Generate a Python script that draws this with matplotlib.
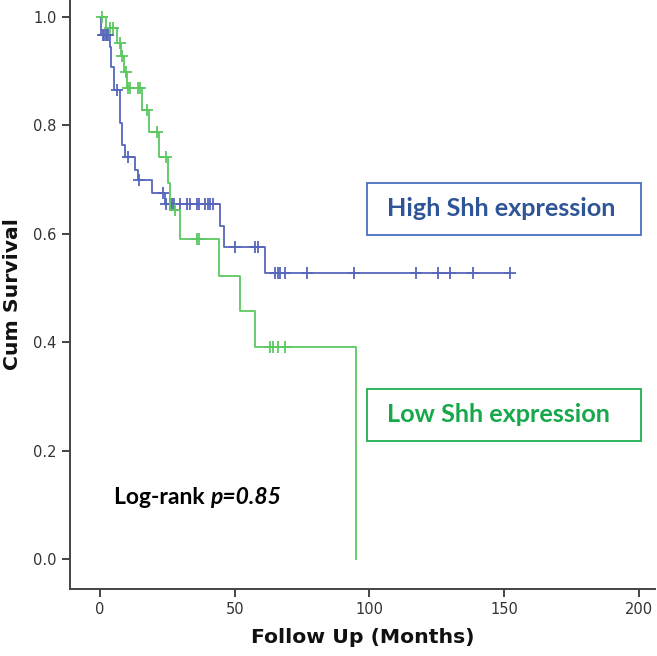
import numpy as np
import matplotlib
matplotlib.use("Agg")
import matplotlib.pyplot as plt

# Kaplan-Meier curves (months, cumulative survival)
high_times = [0, 0.3, 3.7, 4.2, 5.0, 7.2, 7.5, 8.0, 9.3, 13.0, 14.2, 19.2,
              24.2, 44.5, 46.0, 61.3, 152.4]
high_surv = [1.0, 0.967, 0.945, 0.908, 0.865, 0.845, 0.804, 0.763, 0.742,
             0.718, 0.699, 0.676, 0.655, 0.614, 0.576, 0.528, 0.528]
high_cens = [1.0, 1.5, 2.0, 2.5, 3.0, 6.2, 10.5, 14.6, 23.5, 24.5, 25.8,
             26.6, 27.5, 29.5, 32.2, 33.5, 35.9, 36.9, 39.0, 39.9, 40.9, 42.1,
             50.2, 57.6, 58.7, 65.0, 65.9, 66.9, 68.8, 76.8, 94.4, 117.3,
             125.5, 130.1, 138.5, 152.4]

low_times = [0, 2.2, 6.2, 7.7, 8.7, 9.9, 15.5, 18.0, 21.7, 25.2, 25.8,
             29.5, 44.0, 51.8, 57.6, 95.2]
low_surv = [1.0, 0.979, 0.951, 0.927, 0.899, 0.868, 0.828, 0.787, 0.742,
            0.694, 0.644, 0.590, 0.523, 0.458, 0.392, 0.0]
low_cens = [0.6, 3.7, 4.6, 7.2, 8.2, 9.7, 10.5, 11.2, 13.9, 14.9, 17.3,
            21.0, 24.5, 27.9, 36.0, 36.6, 63.2, 64.2, 65.9, 68.8]

x_ticks = [0, 50, 100, 150, 200]
y_ticks = [0.0, 0.2, 0.4, 0.6, 0.8, 1.0]

C_HIGH = "#5666bc"
C_LOW = "#5cc860"
AXIS = "#444444"


def level_at(times, surv, t):
    i = np.searchsorted(times, t, side="right") - 1
    return np.asarray(surv)[i]


fig = plt.figure(figsize=(6.57, 6.56), dpi=100)
ax = fig.add_axes([0.1065, 0.102, 0.89, 0.898])

for times, surv, cens, col in ((high_times, high_surv, high_cens, C_HIGH),
                               (low_times, low_surv, low_cens, C_LOW)):
    ax.step(times, surv, where="post", color=col, lw=1.3)
    ax.plot(cens, level_at(times, surv, cens), ls="none", marker="+",
            ms=8, mew=1.3, color=col)

ax.set_xlim(-11.2, 206)
ax.set_ylim(-0.055, 1.031)
ax.set_xticks(x_ticks)
ax.set_yticks(y_ticks)
ax.set_xticklabels([str(v) for v in x_ticks])
ax.set_yticklabels([f"{v:.1f}" for v in y_ticks])
for s in ("top", "right"):
    ax.spines[s].set_visible(False)
for s in ("left", "bottom"):
    ax.spines[s].set_color(AXIS)
    ax.spines[s].set_linewidth(1.4)
ax.tick_params(colors=AXIS, labelcolor="#333333", labelsize=10.5,
               length=6, width=1.4)

ax.set_xlabel("Follow Up (Months)", fontsize=14.7, fontweight="bold",
              color="#111111", labelpad=8)
ax.set_ylabel("Cum Survival", fontsize=14.7, fontweight="bold",
              color="#111111", labelpad=8)

# annotation boxes
for text, y0, y1, edge, tc in (("High Shh expression", 183, 235, "#4a6fc0", "#2f5597"),
                                ("Low Shh expression", 389, 441, "#20b050", "#16a84a")):
    x0, x1 = 367, 641
    fig.patches.append(matplotlib.patches.Rectangle(
        (x0 / 657, 1 - y1 / 656), (x1 - x0) / 657, (y1 - y0) / 656,
        transform=fig.transFigure, fill=False, edgecolor=edge, lw=1.3))
    fig.text(387 / 657, 1 - (y0 + y1) / 2 / 656, text, family="Lato",
             fontsize=18.2, fontweight="bold", color=tc, ha="left", va="center")

lr = fig.text(114 / 657, 1 - 497 / 656, "Log-rank ", family="Lato", fontsize=16.5,
              fontweight="bold", color="black", ha="left", va="center")
ax.annotate("p=0.85", xy=(1, 0.5), xycoords=lr, family="Lato", fontsize=16.5,
            fontweight="bold", style="italic", color="black", ha="left", va="center")

fig.savefig("out.png", dpi=100)
